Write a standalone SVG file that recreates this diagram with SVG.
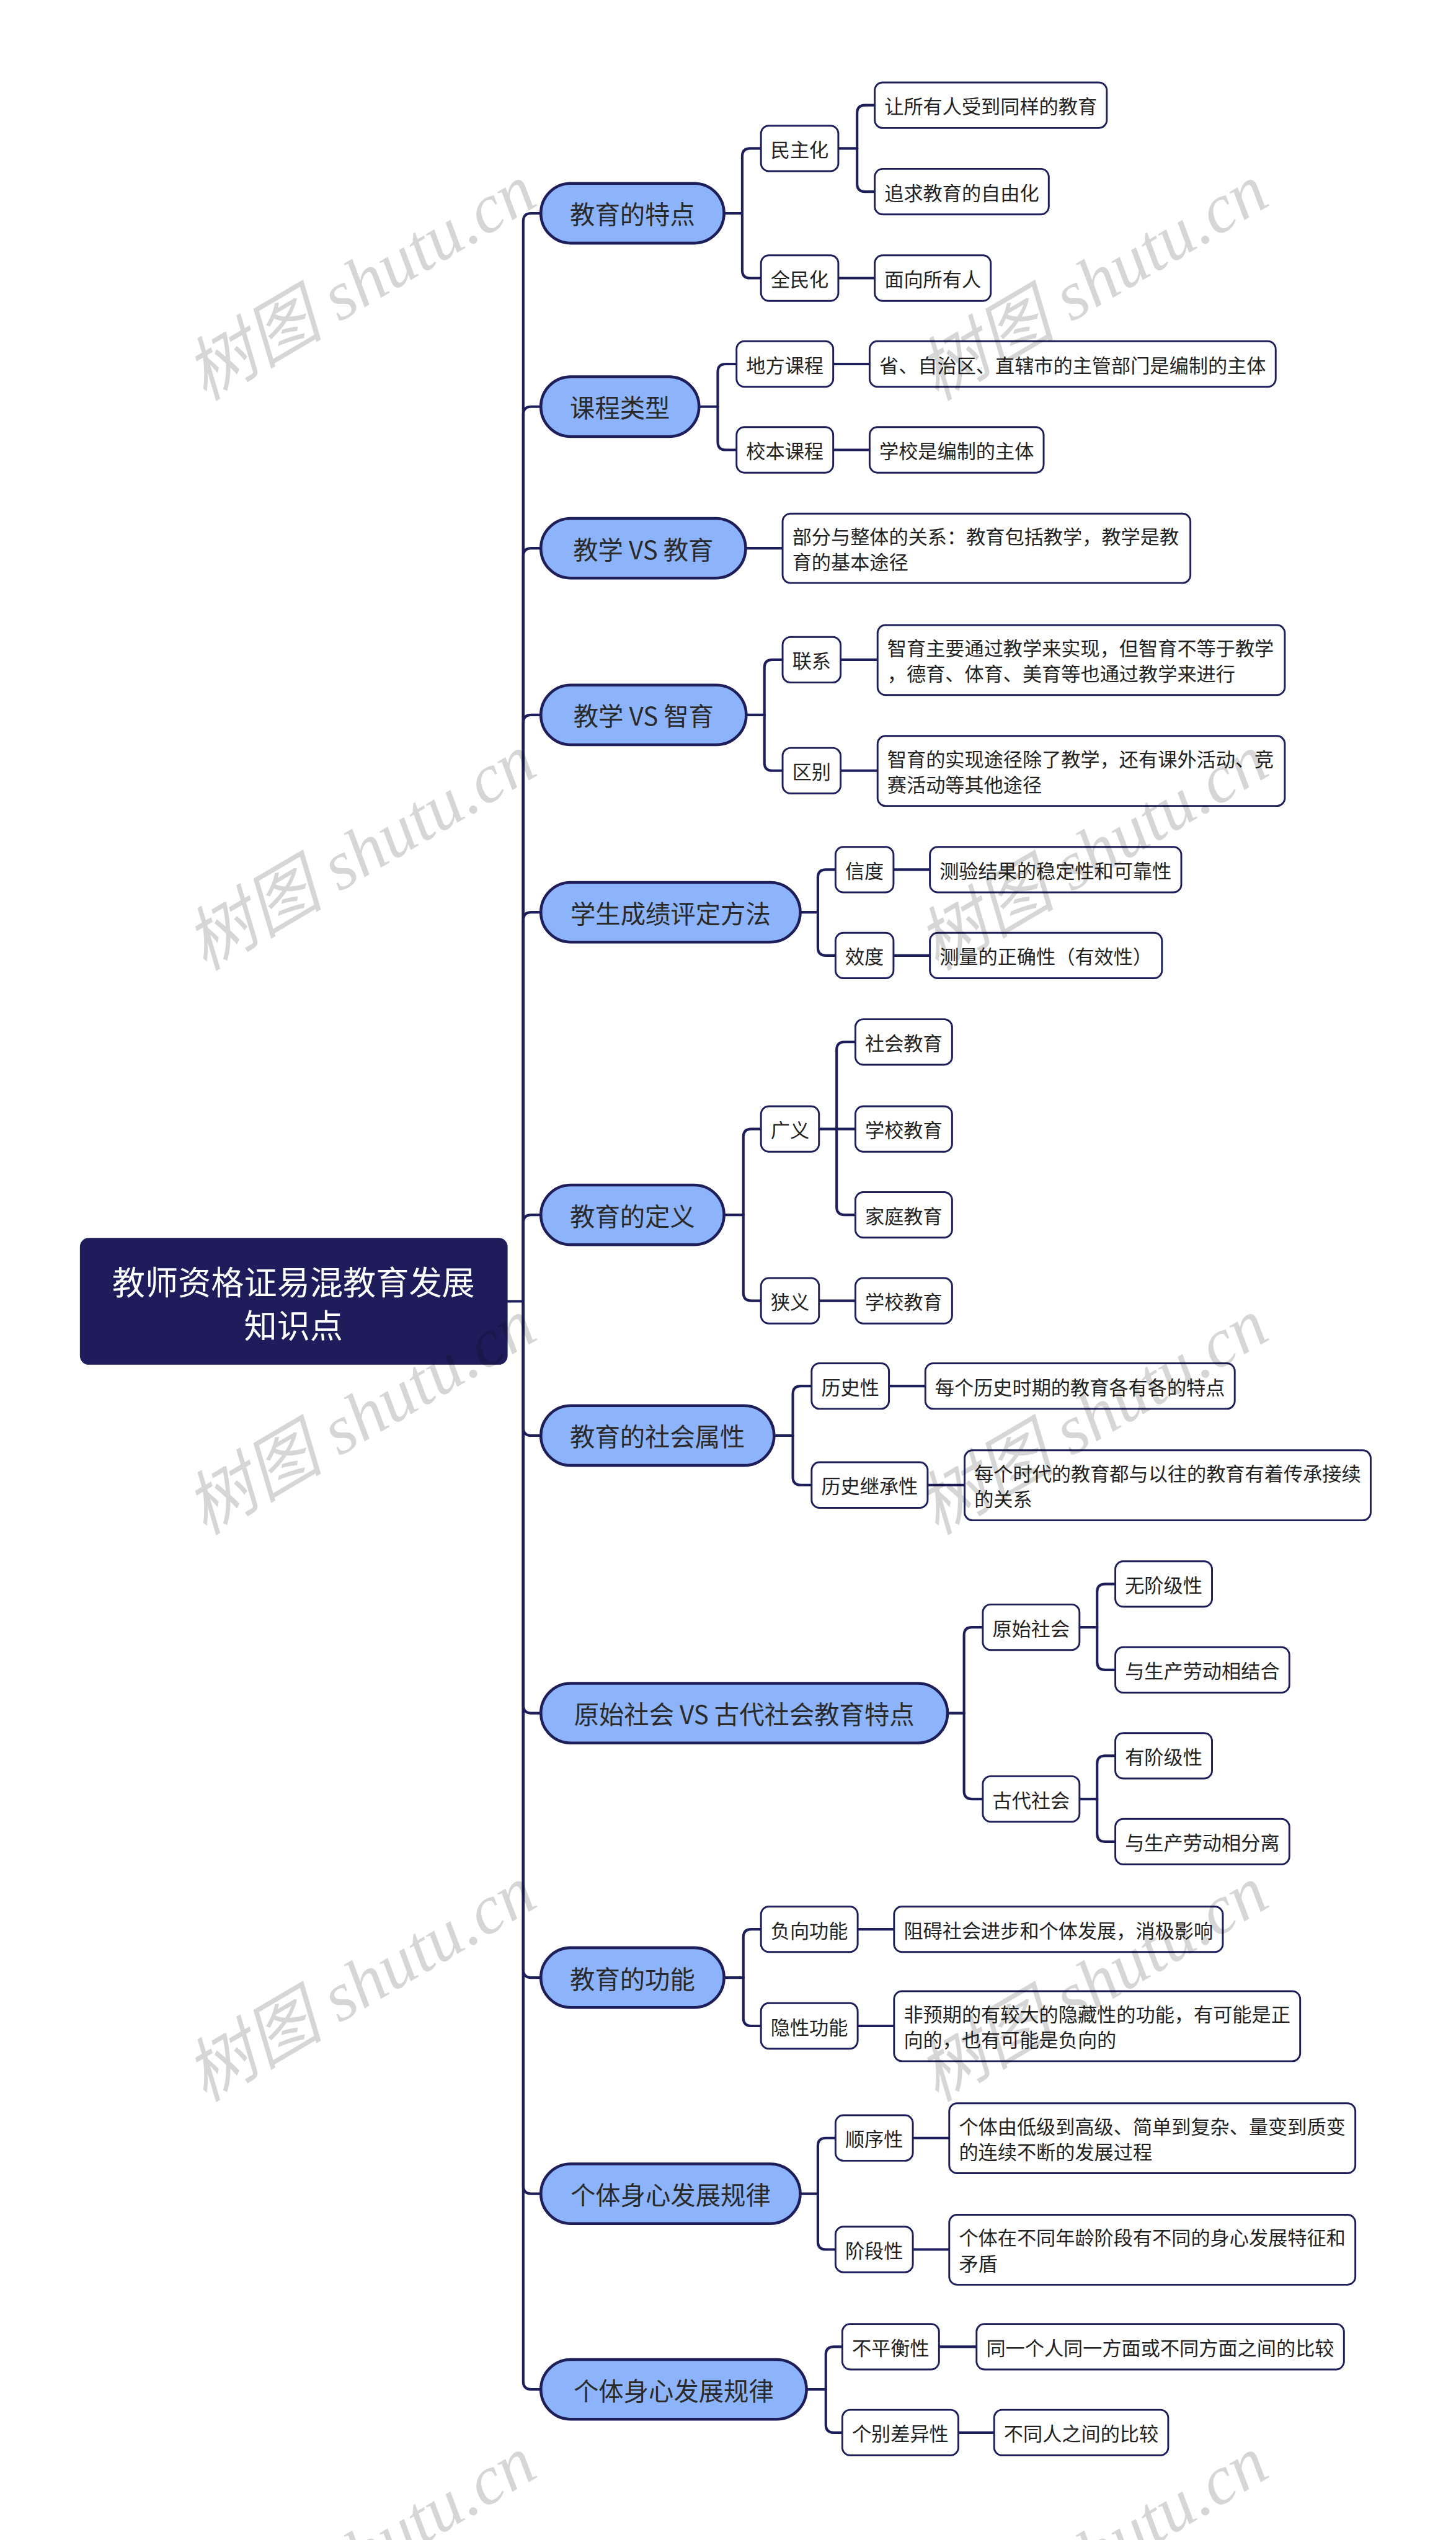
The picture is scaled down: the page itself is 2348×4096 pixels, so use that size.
<svg xmlns="http://www.w3.org/2000/svg" width="2348" height="4096" viewBox="0 0 2348 4096">
<style>
.c{fill:none;stroke:#1e1e5a;stroke-width:4.5;stroke-linecap:round;stroke-linejoin:round}
.p{fill:#8db4fa;stroke:#1e1e5a;stroke-width:5}
.b{fill:#ffffff;stroke:#1e1e5a;stroke-width:3.2}
.r{fill:#1e1c5a;stroke:#1e1e5a;stroke-width:3}
.t1{font-family:"Noto Sans CJK SC","Noto Sans",sans-serif;font-size:44px;fill:#2a2a2a;text-anchor:middle;dominant-baseline:central}
.t2{font-family:"Noto Sans CJK SC","Noto Sans",sans-serif;font-size:34px;fill:#222222;dominant-baseline:central}
.tr{font-family:"Noto Sans CJK SC","Noto Sans",sans-serif;font-size:58px;fill:#ffffff;text-anchor:middle;dominant-baseline:central}
.wm{font-family:"Liberation Serif","Noto Sans CJK SC",serif;font-style:italic;font-size:122px;fill:#000000;fill-opacity:0.16}
</style>
<rect x="0" y="0" width="2348" height="4096" fill="#ffffff"/>
<g transform="scale(0.917188)">
<g id="connectors">
<path class="c" d="M891,2288 H920"/>
<path class="c" d="M920,2288 V389 Q920,375 934,375 H951"/>
<path class="c" d="M920,2288 V729 Q920,715 934,715 H951"/>
<path class="c" d="M920,2288 V978 Q920,964 934,964 H951"/>
<path class="c" d="M920,2288 V1271 Q920,1257 934,1257 H951"/>
<path class="c" d="M920,2288 V1618 Q920,1604 934,1604 H951"/>
<path class="c" d="M920,2288 V2150 Q920,2136 934,2136 H951"/>
<path class="c" d="M920,2288 V2510 Q920,2524 934,2524 H951"/>
<path class="c" d="M920,2288 V2998 Q920,3012 934,3012 H951"/>
<path class="c" d="M920,2288 V3463 Q920,3477 934,3477 H951"/>
<path class="c" d="M920,2288 V3843 Q920,3857 934,3857 H951"/>
<path class="c" d="M920,2288 V4187 Q920,4201 934,4201 H951"/>
<path class="c" d="M1273,375 H1305"/>
<path class="c" d="M1305,375 V275 Q1305,261 1319,261 H1338"/>
<path class="c" d="M1305,375 V475 Q1305,489 1319,489 H1338"/>
<path class="c" d="M1474,261 H1507"/>
<path class="c" d="M1507,261 V199 Q1507,185 1521,185 H1538"/>
<path class="c" d="M1507,261 V323 Q1507,337 1521,337 H1538"/>
<path class="c" d="M1474,489 H1538"/>
<path class="c" d="M1229,715 H1262"/>
<path class="c" d="M1262,715 V654 Q1262,640 1276,640 H1295"/>
<path class="c" d="M1262,715 V777 Q1262,791 1276,791 H1295"/>
<path class="c" d="M1465,640 H1529"/>
<path class="c" d="M1465,791 H1529"/>
<path class="c" d="M1311,964 H1376"/>
<path class="c" d="M1312,1257 H1344"/>
<path class="c" d="M1344,1257 V1174 Q1344,1160 1358,1160 H1376"/>
<path class="c" d="M1344,1257 V1341 Q1344,1355 1358,1355 H1376"/>
<path class="c" d="M1478,1160 H1543"/>
<path class="c" d="M1478,1355 H1543"/>
<path class="c" d="M1407,1604 H1438"/>
<path class="c" d="M1438,1604 V1543 Q1438,1529 1452,1529 H1469"/>
<path class="c" d="M1438,1604 V1666 Q1438,1680 1452,1680 H1469"/>
<path class="c" d="M1571,1529 H1635"/>
<path class="c" d="M1571,1680 H1635"/>
<path class="c" d="M1273,2136 H1307"/>
<path class="c" d="M1307,2136 V1999 Q1307,1985 1321,1985 H1338"/>
<path class="c" d="M1307,2136 V2273 Q1307,2287 1321,2287 H1338"/>
<path class="c" d="M1440,1985 H1504"/>
<path class="c" d="M1471,1985 V1846 Q1471,1832 1485,1832 H1504"/>
<path class="c" d="M1471,1985 V2122 Q1471,2136 1485,2136 H1504"/>
<path class="c" d="M1440,2287 H1504"/>
<path class="c" d="M1361,2524 H1394"/>
<path class="c" d="M1394,2524 V2451 Q1394,2437 1408,2437 H1427"/>
<path class="c" d="M1394,2524 V2597 Q1394,2611 1408,2611 H1427"/>
<path class="c" d="M1563,2437 H1627"/>
<path class="c" d="M1631,2611 H1696"/>
<path class="c" d="M1666,3012 H1695"/>
<path class="c" d="M1695,3012 V2875 Q1695,2861 1709,2861 H1728"/>
<path class="c" d="M1695,3012 V3149 Q1695,3163 1709,3163 H1728"/>
<path class="c" d="M1898,2861 H1929"/>
<path class="c" d="M1929,2861 V2799 Q1929,2785 1943,2785 H1961"/>
<path class="c" d="M1929,2861 V2922 Q1929,2936 1943,2936 H1961"/>
<path class="c" d="M1898,3163 H1929"/>
<path class="c" d="M1929,3163 V3101 Q1929,3087 1943,3087 H1961"/>
<path class="c" d="M1929,3163 V3224 Q1929,3238 1943,3238 H1961"/>
<path class="c" d="M1273,3477 H1307"/>
<path class="c" d="M1307,3477 V3406 Q1307,3392 1321,3392 H1338"/>
<path class="c" d="M1307,3477 V3548 Q1307,3562 1321,3562 H1338"/>
<path class="c" d="M1508,3392 H1572"/>
<path class="c" d="M1508,3562 H1572"/>
<path class="c" d="M1407,3857 H1438"/>
<path class="c" d="M1438,3857 V3773 Q1438,3759 1452,3759 H1469"/>
<path class="c" d="M1438,3857 V3941 Q1438,3955 1452,3955 H1469"/>
<path class="c" d="M1605,3759 H1669"/>
<path class="c" d="M1605,3955 H1669"/>
<path class="c" d="M1418,4201 H1452"/>
<path class="c" d="M1452,4201 V4140 Q1452,4126 1466,4126 H1481"/>
<path class="c" d="M1452,4201 V4263 Q1452,4277 1466,4277 H1481"/>
<path class="c" d="M1651,4126 H1717"/>
<path class="c" d="M1685,4277 H1748"/>
</g>

<g id="root"><rect class="r" x="142" y="2178" width="749" height="220" rx="14"/><text class="tr" x="516" y="2251">教师资格证易混教育发展</text><text class="tr" x="516" y="2327">知识点</text></g>

<g id="n1"><rect class="p" x="951" y="322.5" width="322" height="105" rx="52.5"/><text class="t1" x="1112" y="375">教育的特点</text></g>
<g id="n1a"><rect class="b" x="1338" y="221" width="136" height="80" rx="14"/><text class="t2" x="1355" y="261">民主化</text></g>
<g id="n1b"><rect class="b" x="1338" y="449" width="136" height="80" rx="14"/><text class="t2" x="1355" y="489">全民化</text></g>
<g id="n1a1"><rect class="b" x="1538" y="145" width="408" height="80" rx="14"/><text class="t2" x="1555" y="185">让所有人受到同样的教育</text></g>
<g id="n1a2"><rect class="b" x="1538" y="297" width="306" height="80" rx="14"/><text class="t2" x="1555" y="337">追求教育的自由化</text></g>
<g id="n1b1"><rect class="b" x="1538" y="449" width="204" height="80" rx="14"/><text class="t2" x="1555" y="489">面向所有人</text></g>

<g id="n2"><rect class="p" x="951" y="662.5" width="278" height="105" rx="52.5"/><text class="t1" x="1090" y="715">课程类型</text></g>
<g id="n2a"><rect class="b" x="1295" y="600" width="170" height="80" rx="14"/><text class="t2" x="1312" y="640">地方课程</text></g>
<g id="n2b"><rect class="b" x="1295" y="751" width="170" height="80" rx="14"/><text class="t2" x="1312" y="791">校本课程</text></g>
<g id="n2a1"><rect class="b" x="1529" y="600" width="714" height="80" rx="14"/><text class="t2" x="1546" y="640">省、自治区、直辖市的主管部门是编制的主体</text></g>
<g id="n2b1"><rect class="b" x="1529" y="751" width="306" height="80" rx="14"/><text class="t2" x="1546" y="791">学校是编制的主体</text></g>

<g id="n3"><rect class="p" x="951" y="911.5" width="360" height="105" rx="52.5"/><text class="t1" x="1131" y="964">教学 VS 教育</text></g>
<g id="n3a"><rect class="b" x="1376" y="903" width="717" height="122" rx="14"/><text class="t2" x="1393" y="941.5">部分与整体的关系：教育包括教学，教学是教</text><text class="t2" x="1393" y="986.5">育的基本途径</text></g>

<g id="n4"><rect class="p" x="951" y="1204.5" width="361" height="105" rx="52.5"/><text class="t1" x="1131.5" y="1257">教学 VS 智育</text></g>
<g id="n4a"><rect class="b" x="1376" y="1120" width="102" height="80" rx="14"/><text class="t2" x="1393" y="1160">联系</text></g>
<g id="n4b"><rect class="b" x="1376" y="1315" width="102" height="80" rx="14"/><text class="t2" x="1393" y="1355">区别</text></g>
<g id="n4a1"><rect class="b" x="1543" y="1099" width="716" height="123" rx="14"/><text class="t2" x="1560" y="1137.5">智育主要通过教学来实现，但智育不等于教学</text><text class="t2" x="1560" y="1182.5">，德育、体育、美育等也通过教学来进行</text></g>
<g id="n4b1"><rect class="b" x="1543" y="1294" width="716" height="123" rx="14"/><text class="t2" x="1560" y="1332.5">智育的实现途径除了教学，还有课外活动、竞</text><text class="t2" x="1560" y="1377.5">赛活动等其他途径</text></g>

<g id="n5"><rect class="p" x="951" y="1551.5" width="456" height="105" rx="52.5"/><text class="t1" x="1179" y="1604">学生成绩评定方法</text></g>
<g id="n5a"><rect class="b" x="1469" y="1489" width="102" height="80" rx="14"/><text class="t2" x="1486" y="1529">信度</text></g>
<g id="n5b"><rect class="b" x="1469" y="1640" width="102" height="80" rx="14"/><text class="t2" x="1486" y="1680">效度</text></g>
<g id="n5a1"><rect class="b" x="1635" y="1489" width="442" height="80" rx="14"/><text class="t2" x="1652" y="1529">测验结果的稳定性和可靠性</text></g>
<g id="n5b1"><rect class="b" x="1635" y="1640" width="408" height="80" rx="14"/><text class="t2" x="1652" y="1680">测量的正确性（有效性）</text></g>

<g id="n6"><rect class="p" x="951" y="2083.5" width="322" height="105" rx="52.5"/><text class="t1" x="1112" y="2136">教育的定义</text></g>
<g id="n6a"><rect class="b" x="1338" y="1945" width="102" height="80" rx="14"/><text class="t2" x="1355" y="1985">广义</text></g>
<g id="n6b"><rect class="b" x="1338" y="2247" width="102" height="80" rx="14"/><text class="t2" x="1355" y="2287">狭义</text></g>
<g id="n6a1"><rect class="b" x="1504" y="1792" width="170" height="80" rx="14"/><text class="t2" x="1521" y="1832">社会教育</text></g>
<g id="n6a2"><rect class="b" x="1504" y="1945" width="170" height="80" rx="14"/><text class="t2" x="1521" y="1985">学校教育</text></g>
<g id="n6a3"><rect class="b" x="1504" y="2096" width="170" height="80" rx="14"/><text class="t2" x="1521" y="2136">家庭教育</text></g>
<g id="n6b1"><rect class="b" x="1504" y="2247" width="170" height="80" rx="14"/><text class="t2" x="1521" y="2287">学校教育</text></g>

<g id="n7"><rect class="p" x="951" y="2471.5" width="410" height="105" rx="52.5"/><text class="t1" x="1156" y="2524">教育的社会属性</text></g>
<g id="n7a"><rect class="b" x="1427" y="2397" width="136" height="80" rx="14"/><text class="t2" x="1444" y="2437">历史性</text></g>
<g id="n7b"><rect class="b" x="1427" y="2571" width="204" height="80" rx="14"/><text class="t2" x="1444" y="2611">历史继承性</text></g>
<g id="n7a1"><rect class="b" x="1627" y="2397" width="544" height="80" rx="14"/><text class="t2" x="1644" y="2437">每个历史时期的教育各有各的特点</text></g>
<g id="n7b1"><rect class="b" x="1696" y="2550" width="714" height="123" rx="14"/><text class="t2" x="1713" y="2588.5">每个时代的教育都与以往的教育有着传承接续</text><text class="t2" x="1713" y="2633.5">的关系</text></g>

<g id="n8"><rect class="p" x="951" y="2959.5" width="715" height="105" rx="52.5"/><text class="t1" x="1308.5" y="3012">原始社会 VS 古代社会教育特点</text></g>
<g id="n8a"><rect class="b" x="1728" y="2821" width="170" height="80" rx="14"/><text class="t2" x="1745" y="2861">原始社会</text></g>
<g id="n8b"><rect class="b" x="1728" y="3123" width="170" height="80" rx="14"/><text class="t2" x="1745" y="3163">古代社会</text></g>
<g id="n8a1"><rect class="b" x="1961" y="2745" width="170" height="80" rx="14"/><text class="t2" x="1978" y="2785">无阶级性</text></g>
<g id="n8a2"><rect class="b" x="1961" y="2896" width="306" height="80" rx="14"/><text class="t2" x="1978" y="2936">与生产劳动相结合</text></g>
<g id="n8b1"><rect class="b" x="1961" y="3047" width="170" height="80" rx="14"/><text class="t2" x="1978" y="3087">有阶级性</text></g>
<g id="n8b2"><rect class="b" x="1961" y="3198" width="306" height="80" rx="14"/><text class="t2" x="1978" y="3238">与生产劳动相分离</text></g>

<g id="n9"><rect class="p" x="951" y="3424.5" width="322" height="105" rx="52.5"/><text class="t1" x="1112" y="3477">教育的功能</text></g>
<g id="n9a"><rect class="b" x="1338" y="3352" width="170" height="80" rx="14"/><text class="t2" x="1355" y="3392">负向功能</text></g>
<g id="n9b"><rect class="b" x="1338" y="3522" width="170" height="80" rx="14"/><text class="t2" x="1355" y="3562">隐性功能</text></g>
<g id="n9a1"><rect class="b" x="1572" y="3352" width="578" height="80" rx="14"/><text class="t2" x="1589" y="3392">阻碍社会进步和个体发展，消极影响</text></g>
<g id="n9b1"><rect class="b" x="1572" y="3501" width="714" height="123" rx="14"/><text class="t2" x="1589" y="3539.5">非预期的有较大的隐藏性的功能，有可能是正</text><text class="t2" x="1589" y="3584.5">向的，也有可能是负向的</text></g>

<g id="n10"><rect class="p" x="951" y="3804.5" width="456" height="105" rx="52.5"/><text class="t1" x="1179" y="3857">个体身心发展规律</text></g>
<g id="n10a"><rect class="b" x="1469" y="3719" width="136" height="80" rx="14"/><text class="t2" x="1486" y="3759">顺序性</text></g>
<g id="n10b"><rect class="b" x="1469" y="3915" width="136" height="80" rx="14"/><text class="t2" x="1486" y="3955">阶段性</text></g>
<g id="n10a1"><rect class="b" x="1669" y="3698" width="714" height="123" rx="14"/><text class="t2" x="1686" y="3736.5">个体由低级到高级、简单到复杂、量变到质变</text><text class="t2" x="1686" y="3781.5">的连续不断的发展过程</text></g>
<g id="n10b1"><rect class="b" x="1669" y="3894" width="714" height="123" rx="14"/><text class="t2" x="1686" y="3932.5">个体在不同年龄阶段有不同的身心发展特征和</text><text class="t2" x="1686" y="3977.5">矛盾</text></g>

<g id="n11"><rect class="p" x="951" y="4148.5" width="467" height="105" rx="52.5"/><text class="t1" x="1184.5" y="4201">个体身心发展规律</text></g>
<g id="n11a"><rect class="b" x="1481" y="4086" width="170" height="80" rx="14"/><text class="t2" x="1498" y="4126">不平衡性</text></g>
<g id="n11b"><rect class="b" x="1481" y="4237" width="204" height="80" rx="14"/><text class="t2" x="1498" y="4277">个别差异性</text></g>
<g id="n11a1"><rect class="b" x="1717" y="4086" width="646" height="80" rx="14"/><text class="t2" x="1734" y="4126">同一个人同一方面或不同方面之间的比较</text></g>
<g id="n11b1"><rect class="b" x="1748" y="4237" width="306" height="80" rx="14"/><text class="t2" x="1765" y="4277">不同人之间的比较</text></g>

<g id="watermark">
<text class="wm" transform="translate(360,706) rotate(-30.5)">树图 shutu.cn</text>
<text class="wm" transform="translate(1647,706) rotate(-30.5)">树图 shutu.cn</text>
<text class="wm" transform="translate(360,1708) rotate(-30.5)">树图 shutu.cn</text>
<text class="wm" transform="translate(1647,1708) rotate(-30.5)">树图 shutu.cn</text>
<text class="wm" transform="translate(360,2700) rotate(-30.5)">树图 shutu.cn</text>
<text class="wm" transform="translate(1647,2700) rotate(-30.5)">树图 shutu.cn</text>
<text class="wm" transform="translate(360,3697) rotate(-30.5)">树图 shutu.cn</text>
<text class="wm" transform="translate(1647,3697) rotate(-30.5)">树图 shutu.cn</text>
<text class="wm" transform="translate(360,4700) rotate(-30.5)">树图 shutu.cn</text>
<text class="wm" transform="translate(1647,4700) rotate(-30.5)">树图 shutu.cn</text>
</g>
</g>
</svg>
